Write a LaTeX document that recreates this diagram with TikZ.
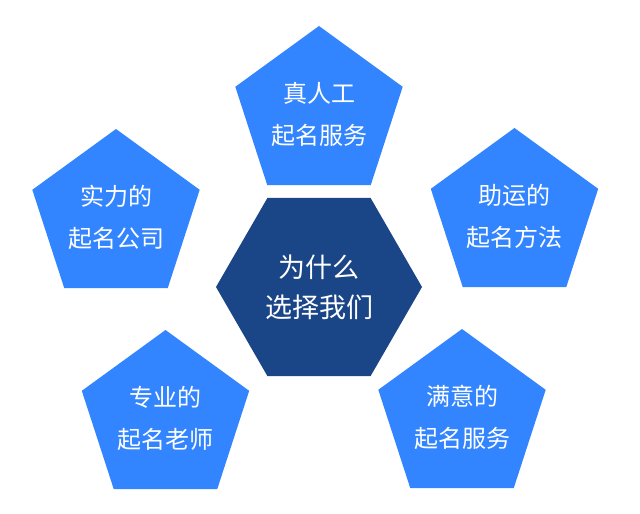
\documentclass[tikz,border=0pt]{standalone}
\usepackage{fontspec}
\setmainfont{Noto Sans CJK SC}
\usetikzlibrary{shapes.geometric}
\definecolor{petalblue}{RGB}{51,133,255}
\definecolor{hubblue}{RGB}{26,69,135}
\tikzset{
  petal/.style={regular polygon,regular polygon sides=5,minimum size=176pt,inner sep=0pt,outer sep=0pt,
    fill=petalblue,text=white,align=center,font=\fontsize{24}{42}\selectfont},
  hub/.style={regular polygon,regular polygon sides=6,minimum size=206pt,inner sep=0pt,outer sep=0pt,
    fill=hubblue,text=white,align=center,font=\fontsize{27}{40}\selectfont}
}
\begin{document}
\begin{tikzpicture}[x=1pt,y=1pt]
\useasboundingbox (0,0) rectangle (640,-514);
\node[hub] (why) at (319,-287) {为什么\\选择我们};
\node[petal] (real) at (319,-114) {真人工\\起名服务};
\node[petal] (strong) at (116,-217) {实力的\\起名公司};
\node[petal] (luck) at (514.5,-216) {助运的\\起名方法};
\node[petal] (expert) at (165.5,-418) {专业的\\起名老师};
\node[petal] (happy) at (462,-417) {满意的\\起名服务};
\end{tikzpicture}
\end{document}
